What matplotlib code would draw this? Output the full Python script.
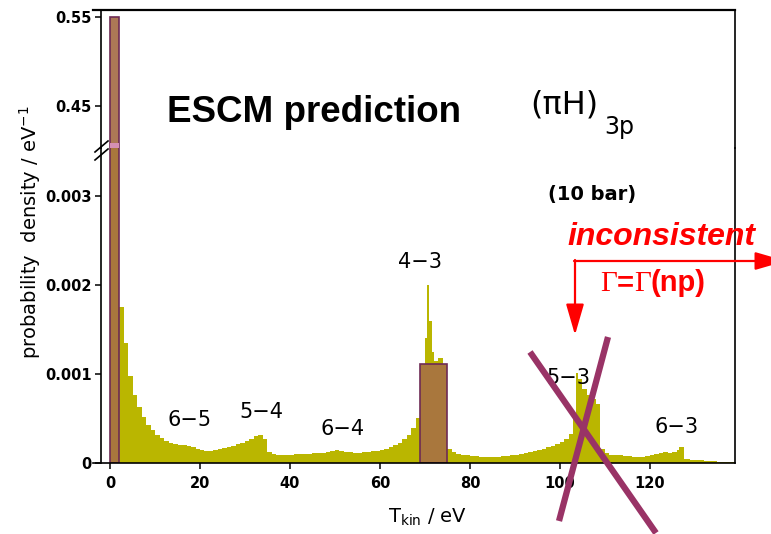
import matplotlib
matplotlib.use('Agg')
from matplotlib import pyplot as plt
from matplotlib import rcParams
from matplotlib.lines import Line2D

W, H = 771, 534

# kinetic energy spectrum, left bin edges in eV, density in 1e-4 / eV
bin_left = [2, 3, 4, 5, 6, 7, 8, 9, 10, 11,
            12, 13, 14, 15, 16, 17, 18, 19, 20, 21,
            22, 23, 24, 25, 26, 27, 28, 29, 30, 31,
            32, 33, 34, 35, 36, 37, 38, 39, 40, 41,
            42, 43, 44, 45, 46, 47, 48, 49, 50, 51,
            52, 53, 54, 55, 56, 57, 58, 59, 60, 61,
            62, 63, 64, 65, 66, 67, 68, 69, 70, 70.5,
            71, 71.5, 72, 73, 74, 75, 76, 77, 78, 79,
            80, 81, 82, 83, 84, 85, 86, 87, 88, 89,
            90, 91, 92, 93, 94, 95, 96, 97, 98, 99,
            100, 101, 102, 103, 103.5, 104, 105, 106, 107, 108,
            109, 110, 111, 112, 113, 114, 115, 116, 117, 118,
            119, 120, 121, 122, 123, 124, 125, 126, 126.5, 127.5,
            128, 129, 130, 131, 132, 133, 134, 135, 136, 137, 138]
last_edge = 139
density = [17.5, 13.5, 9.8, 7.6, 6.3, 5.2, 4.3, 3.7, 3.2, 2.8,
           2.5, 2.2, 2.1, 2.0, 2.0, 1.9, 1.8, 1.6, 1.5, 1.4,
           1.4, 1.5, 1.6, 1.7, 1.8, 1.9, 2.1, 2.3, 2.5, 2.7,
           3.0, 3.1, 2.7, 1.2, 1.0, 0.9, 0.9, 0.9, 0.95, 1.0,
           1.0, 1.0, 1.05, 1.1, 1.1, 1.15, 1.2, 1.35, 1.45, 1.3,
           1.2, 1.2, 1.15, 1.15, 1.2, 1.25, 1.3, 1.35, 1.45, 1.6,
           1.8, 2.0, 2.3, 2.7, 3.2, 3.9, 5.0, 7.0, 14.0, 20.0,
           16.0, 12.5, 11.5, 11.8, 10.5, 1.6, 1.2, 1.0, 0.9, 0.85,
           0.8, 0.75, 0.7, 0.7, 0.7, 0.7, 0.72, 0.75, 0.8, 0.85,
           0.95, 1.05, 1.15, 1.25, 1.35, 1.5, 1.6, 1.75, 1.9, 2.1,
           2.4, 2.7, 3.3, 5.0, 10.1, 9.4, 8.3, 7.6, 7.2, 6.6,
           1.6, 1.1, 0.95, 0.9, 0.85, 0.8, 0.75, 0.7, 0.65, 0.7,
           0.75, 0.85, 1.0, 1.15, 1.2, 1.1, 1.25, 1.5, 1.8, 0.5,
           0.4, 0.35, 0.3, 0.3, 0.25, 0.2, 0.2, 0.15, 0.12, 0.1, 0.08]

# ESCM prediction boxes: (left edge, width, height)
box_left = [0, 69]
box_width = [2, 6]
box_height = [0.55, 0.00111]

# transition labels and where they sit
lines = ['6\u22125', '5\u22124', '6\u22124', '4\u22123', '5\u22123', '6\u22123']
line_x = [17.6, 33.6, 51.6, 68.9, 101.8, 126.0]
line_y = [0.00048, 0.00057, 0.00038, 0.00226, 0.00096, 0.00040]

xlim = (-3.78, 138.9)
ylim_low = (0, 0.003539)
ylim_high = (0.4028, 0.5579)

hist_color = '#bab600'
box_color = '#a9773d'
box_top_color = '#ad7856'
edge_color = '#6e2b55'

rcParams['font.family'] = 'DejaVu Sans'
rcParams['axes.linewidth'] = 1.2


def px(x, y):
    return x / W, 1 - y / H


fig = plt.figure(figsize=(W / 100, H / 100), dpi=100)
ax_hi = fig.add_axes([93 / W, 1 - 148 / H, 642 / W, 138 / H])
ax = fig.add_axes([93 / W, 1 - 463 / H, 642 / W, 315 / H])

edges = bin_left + [last_edge]
ax.stairs([d * 1e-4 for d in density], edges, fill=True, color=hist_color,
          zorder=1)
ax.bar(box_left, box_height, width=box_width, align='edge', color=box_color,
       edgecolor=edge_color, linewidth=1.2, zorder=2)
ax_hi.bar(box_left[0], box_height[0], width=box_width[0], align='edge',
          color=box_top_color, edgecolor=edge_color, linewidth=1.2, zorder=2)
# pink band where the bar is cut
ax_hi.bar(box_left[0], 0.006, width=box_width[0], bottom=ylim_high[0],
          align='edge', color='#d690b4', linewidth=0, zorder=3)

for a in (ax, ax_hi):
    a.set_xlim(*xlim)
    a.spines['left'].set_position(('data', -2))
    a.tick_params(direction='out', length=4.5, width=1.1, labelsize=10.5,
                  pad=2)
    a.set_facecolor('none')

ax.set_ylim(*ylim_low)
ax.spines['top'].set_visible(False)
ax.set_xticks([0, 20, 40, 60, 80, 100, 120])
ax.set_xticklabels(['0', '20', '40', '60', '80', '100', '120'], fontweight='bold')
ax.tick_params(axis='x', pad=5)
ax.set_yticks([0, 0.001, 0.002, 0.003])
ax.set_yticklabels(['0', '0.001', '0.002', '0.003'], fontweight='bold')

ax_hi.set_ylim(*ylim_high)
ax_hi.spines['bottom'].set_visible(False)
ax_hi.spines['top'].set_linewidth(1.6)
ax_hi.set_xticks([])
ax_hi.set_yticks([0.45, 0.55])
ax_hi.set_yticklabels(['0.45', '0.55'], fontweight='bold')

for name, tx, ty in zip(lines, line_x, line_y):
    ax.text(tx, ty, name, ha='center', va='center', fontsize=15, zorder=4)

# axis break marks
for dy in (0, 8):
    x0, y0 = px(95, 152 + dy)
    x1, y1 = px(108, 141 + dy)
    fig.add_artist(Line2D([x0, x1], [y0, y1], color='k', lw=1.2))

fig.text(*px(30, 232), 'probability  density / eV$^{-1}$', rotation=90,
         ha='center', va='center', fontsize=14)
fig.text(*px(428, 517), r'T$_{\mathrm{kin}}$ / eV', ha='center', va='center',
         fontsize=14)

fig.text(*px(167, 122), 'ESCM prediction', fontsize=26.5, fontweight='bold',
         family='Liberation Sans', va='baseline')
fig.text(*px(530, 113), '(\u03c0H)', fontsize=23, va='baseline')
fig.text(*px(604, 134), '3p', fontsize=17, va='baseline')
fig.text(*px(548, 200), '(10 bar)', fontsize=14, fontweight='bold',
         va='baseline')

red = '#ff0000'
fig.text(*px(567, 245), 'inconsistent', fontsize=23, fontweight='bold',
         style='italic', family='Liberation Sans', color=red, va='baseline')

renderer = fig.canvas.get_renderer()
x = 600
for s, fam, wt in [('\u0393', 'Liberation Serif', 'normal'),
                   ('=', 'Liberation Sans', 'bold'),
                   ('\u0393', 'Liberation Serif', 'normal'),
                   ('(np)', 'Liberation Sans', 'bold')]:
    t = fig.text(*px(x, 291), s, fontsize=21, family=fam, fontweight=wt,
                 color=red, va='baseline')
    x += t.get_window_extent(renderer).width

arrow = dict(arrowstyle='-|>,head_length=1.9,head_width=0.55', color=red,
             lw=1.6, mutation_scale=10, shrinkA=0, shrinkB=0)
ax.annotate('', xy=(786, H - 261), xytext=(574, H - 261),
            xycoords='figure pixels', textcoords='figure pixels',
            arrowprops=arrow, annotation_clip=False)
ax.annotate('', xy=(575, H - 335), xytext=(575, H - 260),
            xycoords='figure pixels', textcoords='figure pixels',
            arrowprops=arrow, annotation_clip=False)

# cross through the 5-3 line
cross = '#993366'
for (xa, ya), (xb, yb) in [((530, 352), (656, 533)), ((608, 337), (559, 521))]:
    fig.add_artist(Line2D([xa / W, xb / W], [1 - ya / H, 1 - yb / H],
                          color=cross, lw=4.5, solid_capstyle='butt',
                          zorder=10))

plt.savefig('out.png', dpi=100)
